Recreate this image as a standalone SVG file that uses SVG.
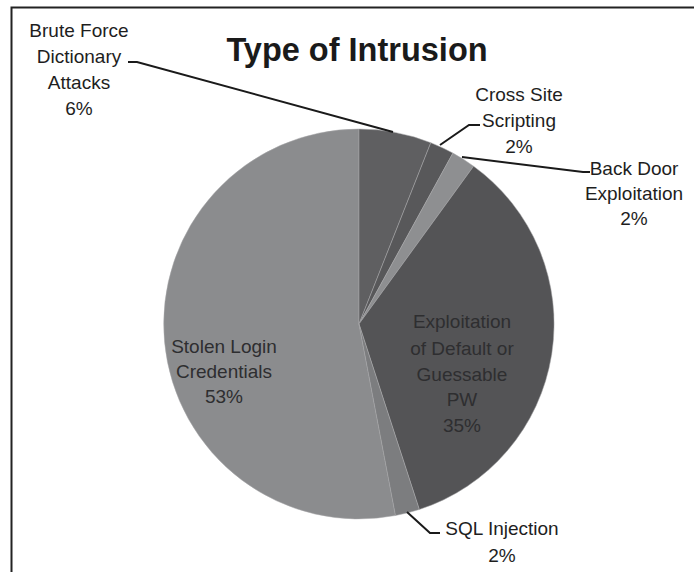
<svg xmlns="http://www.w3.org/2000/svg" width="694" height="572" viewBox="0 0 694 572">
<style>
.lbl{font-family:"Liberation Sans",Arial,sans-serif;font-size:19px;fill:#1e1e1e;text-anchor:middle}
.in{fill:#2e2e30}
.title{font-family:"Liberation Sans",Arial,sans-serif;font-size:32.5px;font-weight:bold;fill:#1a1a1a;text-anchor:middle}
.lead{fill:none;stroke:#1a1a1a;stroke-width:2}
.sl{stroke:#a8a8aa;stroke-width:0.5}
</style>
<rect x="0" y="0" width="694" height="572" fill="#ffffff"/>
<path d="M11.5,572 V7.5 H694" fill="none" stroke="#222222" stroke-width="2"/>
<text class="title" x="357" y="61">Type of Intrusion</text>
<g id="pie">
<g id="stolen"><path class="sl" d="M359,324 L395.5,515.5 A195,195 0 1 1 359,129 Z" fill="#8b8c8e"/></g>
<g id="brute"><path class="sl" d="M359,324 L359,129 A195,195 0 0 1 430.8,142.7 Z" fill="#5f5f61"/></g>
<g id="cross"><path class="sl" d="M359,324 L430.8,142.7 A195,195 0 0 1 452.9,153.1 Z" fill="#58585a"/></g>
<g id="backdoor"><path class="sl" d="M359,324 L452.9,153.1 A195,195 0 0 1 473.6,166.2 Z" fill="#8e8f91"/></g>
<g id="exploit"><path class="sl" d="M359,324 L473.6,166.2 A195,195 0 0 1 419.3,509.5 Z" fill="#545456"/></g>
<g id="sql"><path class="sl" d="M359,324 L419.3,509.5 A195,195 0 0 1 395.5,515.5 Z" fill="#7c7d7f"/></g>
</g>
<g id="connectors">
<polyline class="lead" points="128,62 137,62 393,132"/>
<polyline class="lead" points="440,145 469,125 480,125"/>
<polyline class="lead" points="462,157 583,172 590,172"/>
<polyline class="lead" points="407,512 430,533 440,533"/>
</g>
<g id="label-brute">
<text class="lbl" x="79" y="37">Brute Force</text>
<text class="lbl" x="79" y="63">Dictionary</text>
<text class="lbl" x="79" y="89">Attacks</text>
<text class="lbl" x="79" y="115">6%</text>
</g>
<g id="label-cross">
<text class="lbl" x="519" y="101">Cross Site</text>
<text class="lbl" x="519" y="127">Scripting</text>
<text class="lbl" x="519" y="153">2%</text>
</g>
<g id="label-backdoor">
<text class="lbl" x="634" y="175">Back Door</text>
<text class="lbl" x="634" y="200">Exploitation</text>
<text class="lbl" x="634" y="225">2%</text>
</g>
<g id="label-exploit">
<text class="lbl in" x="462" y="328">Exploitation</text>
<text class="lbl in" x="462" y="355">of Default or</text>
<text class="lbl in" x="462" y="381">Guessable</text>
<text class="lbl in" x="462" y="406">PW</text>
<text class="lbl in" x="462" y="432">35%</text>
</g>
<g id="label-stolen">
<text class="lbl in" x="224" y="353">Stolen Login</text>
<text class="lbl in" x="224" y="378">Credentials</text>
<text class="lbl in" x="224" y="403">53%</text>
</g>
<g id="label-sql">
<text class="lbl" x="502" y="535">SQL Injection</text>
<text class="lbl" x="502" y="562">2%</text>
</g>
</svg>
